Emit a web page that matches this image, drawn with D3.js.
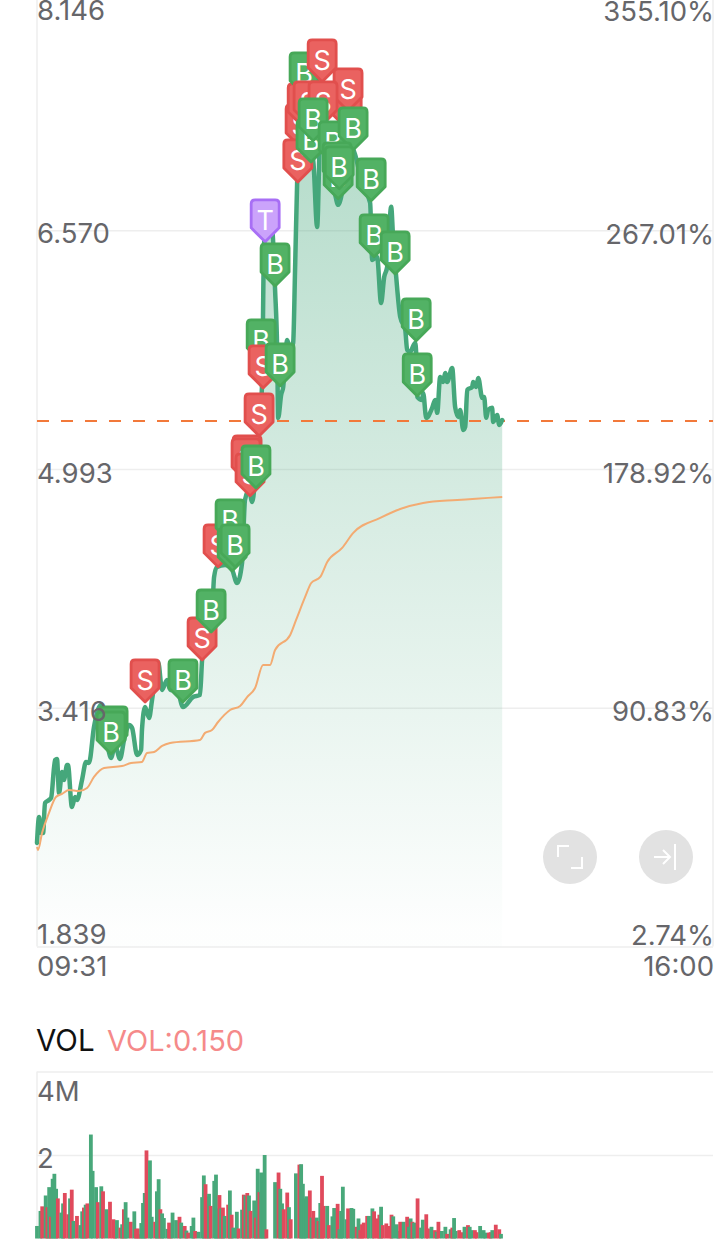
<!DOCTYPE html>
<html>
<head>
<meta charset="utf-8">
<script src="https://cdnjs.cloudflare.com/ajax/libs/d3/7.8.5/d3.min.js"></script>
<style>
  html, body { margin: 0; padding: 0; background: #fff; overflow: hidden; }
  text { font-family: Inter, "Noto Sans", sans-serif; }
</style>
</head>
<body>
<div id="chart"></div>
<script>
// price line, minutes after 09:31
var priceMinutes = [0,1.2,2.3,3.5,4.6,6.9,8.1,10.4,11.5,12.7,14.4,15.5,17.3,17.8,20.1,21.9,23,25.9,28.2,29.9,32.8,36.8,39.7,42.6,44.9,47.8,50.1,53,54.7,57.6,59.9,60.4,62.2,64.5,66.2,69.7,72,74.8,76.6,80.6,84,89.8,93.8,95,98.4,100.2,101.9,103.6,108.2,112.3,115.1,118,119.7,122,123.8,125.5,127.8,129.5,130.7,133,135.3,137,138.2,138.8,140.5,141.6,144,145.7,147.4,148.5,149.7,150.8,152.6,154.9,156.6,158.9,161.2,162.9,163.5,165.8,168.7,171.6,173.3,177.3,180.2,183.1,187.1,191.7,192.9,195.7,198,199.8,201.5,203.8,204.9,206.7,209,211.9,213,214.7,217.6,218.2,218.8,221.6,222.2,224,227.4,229.1,230.3,232,233.7,234.9,236,238.9,240.6,242.4,243.5,245.3,246.4,247.6,250.4,251,252.7,253.9,256.2,257.3,258.5,259.6,261.9,262.5,264.8,266,267.7];
var priceValues = [2.523,2.695,2.589,2.589,2.787,2.807,2.820,3.071,3.078,2.853,2.992,2.939,3.038,3.038,2.761,2.827,2.807,2.939,3.058,3.051,3.289,3.434,3.236,3.084,3.170,3.078,3.203,3.302,3.283,3.104,3.137,3.269,3.421,3.349,3.468,3.719,3.534,3.600,3.534,3.534,3.421,3.487,3.501,3.732,3.963,3.910,4.280,4.346,4.359,4.326,4.240,4.373,4.789,4.855,4.776,4.921,5.284,5.549,6.487,6.625,6.586,6.176,5.780,5.331,5.483,5.529,5.846,5.780,5.826,6.308,6.890,7.233,7.465,7.266,7.101,7.035,6.592,7.299,7.511,7.332,7.002,6.804,6.738,6.936,7.134,7.068,6.870,6.751,6.374,6.394,6.090,6.262,6.328,6.725,6.526,6.262,5.998,5.912,5.780,5.767,5.826,5.760,5.469,5.449,5.496,5.331,5.397,5.449,5.364,5.601,5.568,5.628,5.568,5.661,5.403,5.337,5.383,5.251,5.271,5.516,5.535,5.568,5.535,5.595,5.463,5.469,5.331,5.383,5.397,5.304,5.350,5.284,5.317];

// average price line
var avgMinutes = [0,0.6,2.9,6.9,10.9,14.4,18.4,24.2,28.8,32.8,38.6,48.9,54.1,60.4,63.3,67.4,72,76.6,93.8,96.7,100.7,104.2,111.1,116.9,120.9,125.5,130.1,134.1,137,145.7,149.1,154.3,157.8,163,167,175.6,182,197.5,209,222.2,241.8,267.7];
var avgValues = [2.496,2.477,2.589,2.721,2.827,2.847,2.873,2.866,2.886,2.959,3.018,3.031,3.051,3.058,3.117,3.124,3.164,3.183,3.203,3.250,3.269,3.322,3.401,3.428,3.487,3.547,3.699,3.699,3.798,3.897,3.996,4.148,4.240,4.280,4.379,4.472,4.571,4.670,4.729,4.769,4.789,4.809];

// buy / sell / T flags, in drawing order
var flagTypes = ["B","B","S","B","S","B","S","B","B","B","S","S","S","B","S","B","S","B","T","B","S","S","S","B","S","S","S","S","S","B","B","B","B","B","B","B","B","B","B","B","B"];
var flagMinutes = [43.8,42.6,62.2,84,95,100.2,104.2,111.1,112.3,114,120.9,120.3,122.6,126,127.8,129,130.1,139.9,131.3,137,151.4,152.6,150.1,153.7,164.1,178.5,179,156,164.6,157.7,158.9,170.4,181.9,173.3,172.7,173.9,192.3,194,206.1,218.2,218.8];
var flagPrices = [3.137,3.104,3.448,3.448,3.725,3.910,4.340,4.505,4.313,4.340,4.928,4.908,4.809,4.861,5.205,5.694,5.522,5.535,6.487,6.196,7.114,7.253,6.883,7.458,7.544,7.233,7.352,7.266,7.266,7.015,7.154,7.002,7.094,6.771,6.863,6.837,6.758,6.388,6.275,5.833,5.469];

// volume bars (millions); g = down/green, r = up/red
var volMinutes = [0,2,3,5,6,7,8,9,10,11,12,14,15,16,18,19,20,21,23,25,26,27,28,29,31,32,34,35,37,38,40,42,44,45,46,48,49,50,51,52,54,56,57,58,59,60,61,62,63,65,66,68,69,70,71,72,73,75,76,77,78,80,82,83,85,86,87,89,90,91,93,95,96,97,98,99,100,102,103,104,105,106,107,108,110,111,112,113,115,116,118,119,120,121,122,123,125,126,127,128,129,130,131,132,137,139,140,141,142,144,145,146,149,151,152,153,154,155,157,158,159,161,162,163,164,165,167,168,170,171,173,174,175,176,178,179,181,182,184,185,186,187,188,190,191,193,194,196,197,198,199,201,203,204,205,207,208,209,211,213,214,215,216,217,219,221,222,224,225,227,229,230,231,233,235,236,238,239,240,241,243,245,246,248,249,250,252,253,255,257,258,260,261,262,264,266,267];
var volValues = [.30,.66,.77,1.03,.75,1.23,.52,1.43,1.55,1.19,.96,.62,.84,1.09,.58,.96,1.17,.42,.54,.32,.65,.74,.81,.84,2.49,1.62,1.23,.87,1.25,1.13,.70,.88,.46,.28,.44,.26,.34,.70,.87,.50,.40,.65,.23,.24,.10,.37,.85,1.09,2.11,1.87,.52,.40,1.13,1.42,.70,.60,.49,.23,.38,.20,.62,.44,.52,.38,.30,.19,.14,.30,.50,.18,.16,.99,1.51,1.30,1.01,1.07,.78,1.38,1.53,.72,1.04,.72,.74,.54,.81,1.15,.57,.26,.64,.24,.69,1.05,1.03,1.09,1.03,.66,.91,.50,1.67,1.11,1.58,1.35,2.0,.22,1.35,1.58,1.19,.84,.70,1.10,.75,.46,1.56,1.77,1.78,1.31,.96,1.01,1.15,.50,.66,.50,.42,.85,1.50,.78,.78,.32,.53,.73,.83,.22,.66,1.24,.46,.72,.73,.71,.28,.48,.20,.34,.38,.54,.54,.72,.65,.48,.57,.76,.32,.36,.30,.57,.53,.34,.18,.40,.40,.52,.28,.48,.40,.38,.96,.26,.45,.58,.24,.28,.20,.16,.40,.18,.28,.11,.22,.26,.49,.18,.20,.15,.28,.32,.28,.20,.20,.15,.30,.20,.14,.14,.15,.20,.33,.22,.11];
var volSides = "ggrgrgrgggrggrrgrgrggrgrgggrgrgrrrgrgrggrgrrrgggrggrggrgggrrggrgrgrggrgggrrgrgggrgrgrgrggrgrgrgrgrgrgggrgrggrrgrgrggggrgrgrgrrgrggrggggrggrgrrrrggrrrgrrrrgggrgrggrgrggrrgrgrggrgrggrrgrggrrgggrrgrrggggrg";

var priceTicks = [8.146, 6.570, 4.993, 3.416, 1.839];
var percentLabels = ["355.10%", "267.01%", "178.92%", "90.83%", "2.74%"];
var timeLabels = ["09:31", "16:00"];
var volTicks = [4, 2];
var volTickLabels = ["4M", "2"];
var lastClose = 5.311;

var width = 720, height = 1256;
var left = 37, right = 713;
var textColor = "#66666a", gridColor = "#eeeeee";
var labelSize = 27.5;
var labelDy = ["1.03em", "0.47em", "0.5em", "0.47em", "-0.09em"];

var svg = d3.select("#chart").append("svg")
    .attr("width", width)
    .attr("height", height)
    .style("display", "block");

var x = d3.scaleLinear().domain([0, 389]).range([left, right]);
var y = d3.scaleLinear().domain([1.839, 8.146]).range([946.5, -8.3]);
var yVol = d3.scaleLinear().domain([0, 4]).range([1238.5, 1071.5]);

var defs = svg.append("defs");
var grad = defs.append("linearGradient").attr("id", "areaFill")
    .attr("gradientUnits", "userSpaceOnUse")
    .attr("x1", 0).attr("x2", 0).attr("y1", y(7.5)).attr("y2", 928);
grad.append("stop").attr("offset", 0).attr("stop-color", "#45a77b").attr("stop-opacity", 0.42);
grad.append("stop").attr("offset", 1).attr("stop-color", "#45a77b").attr("stop-opacity", 0.01);

// grid lines + left labels
var leftAxis = svg.append("g")
    .attr("transform", "translate(" + left + ",0)")
    .call(d3.axisRight(y).tickValues(priceTicks).tickSize(right - left).tickFormat(d3.format(".3f")));
leftAxis.select(".domain").remove();
leftAxis.selectAll("line").attr("stroke", gridColor).attr("stroke-width", 1.5);

// edges
svg.selectAll(".edge").data([left, right]).enter().append("line")
    .attr("x1", d => d).attr("x2", d => d)
    .attr("y1", 0).attr("y2", y(1.839))
    .attr("stroke", gridColor).attr("stroke-width", 1.5);

var area = d3.area()
    .x((d, i) => x(priceMinutes[i]))
    .y0(y(1.839))
    .y1(d => y(d))
    .curve(d3.curveMonotoneX);
var line = d3.line()
    .x((d, i) => x(priceMinutes[i]))
    .y(d => y(d))
    .curve(d3.curveMonotoneX);
var avgLine = d3.line()
    .x((d, i) => x(avgMinutes[i]))
    .y(d => y(d))
    .curve(d3.curveMonotoneX);

svg.append("path").datum(priceValues)
    .attr("d", area)
    .attr("fill", "url(#areaFill)");

svg.append("line")
    .attr("x1", left).attr("x2", right)
    .attr("y1", y(lastClose)).attr("y2", y(lastClose))
    .attr("stroke", "#f2793a").attr("stroke-width", 2)
    .attr("stroke-dasharray", "12,12");

svg.append("path").datum(priceValues)
    .attr("d", line)
    .attr("fill", "none")
    .attr("stroke", "#45a77b")
    .attr("stroke-width", 4.5)
    .attr("stroke-linejoin", "round")
    .attr("stroke-linecap", "round");

svg.append("path").datum(avgValues)
    .attr("d", avgLine)
    .attr("fill", "none")
    .attr("stroke", "#f3ab72")
    .attr("stroke-width", 2);

var rightAxis = svg.append("g")
    .attr("transform", "translate(" + (right + 1) + ",0)")
    .call(d3.axisLeft(y).tickValues(priceTicks).tickSize(0).tickPadding(0)
        .tickFormat((d, i) => percentLabels[i]));
rightAxis.select(".domain").remove();
rightAxis.selectAll("text")
    .attr("x", 0)
    .attr("dy", (d, i) => labelDy[i])
    .attr("font-size", labelSize)
    .attr("font-family", 'Inter, "Noto Sans", sans-serif')
    .attr("fill", textColor);

svg.selectAll(".time").data(timeLabels).enter().append("text")
    .attr("x", (d, i) => i ? right + 1 : left)
    .attr("y", 976)
    .attr("text-anchor", (d, i) => i ? "end" : "start")
    .attr("font-size", labelSize)
    .attr("fill", textColor)
    .text(d => d);

// flags
var flagColors = {
  B: { fill: "#52b265", stroke: "#47a858" },
  S: { fill: "#ea6260", stroke: "#e14f4d" },
  T: { fill: "#cba3fb", stroke: "#a86ff5" }
};
var flagPath = "M0,0 L-14,-14 Q-14,-15 -14,-17 L-14,-38 Q-14,-42 -10,-42 L10,-42 Q14,-42 14,-38 L14,-17 Q14,-15 14,-14 Z";
var flags = svg.selectAll(".flag").data(flagTypes).enter().append("g")
    .attr("class", "flag")
    .attr("transform", (d, i) => "translate(" + x(flagMinutes[i]) + "," + (y(flagPrices[i]) - 1) + ")");
flags.append("path")
    .attr("d", flagPath)
    .attr("fill", d => flagColors[d].fill)
    .attr("stroke", d => flagColors[d].stroke)
    .attr("stroke-width", 2.8)
    .attr("stroke-linejoin", "round");
flags.append("text")
    .attr("y", -12)
    .attr("text-anchor", "middle")
    .attr("font-size", 27)
    .attr("fill", "#fff")
    .text(d => d);

// axis labels sit on top of the line and flags
leftAxis.selectAll("text")
    .attr("x", 0)
    .attr("dy", (d, i) => labelDy[i])
    .attr("text-anchor", "start")
    .attr("font-size", labelSize)
    .attr("font-family", 'Inter, "Noto Sans", sans-serif')
    .attr("fill", textColor);
leftAxis.selectAll("text").each(function() { svg.node().appendChild(this); });
svg.selectAll("svg > text").filter(function() { return this.getAttribute("dy"); })
    .attr("transform", "translate(" + left + ",0)")
    .attr("y", (d) => y(d));

// round buttons
var btn = svg.selectAll(".btn").data([570, 666]).enter().append("g")
    .attr("transform", d => "translate(" + d + ",857)");
btn.append("circle").attr("r", 27).attr("fill", "#e2e2e2");
var icons = ["M-12,0 V-11 H-1 M12,0 V11 H1", "M-12,0 H4 M-3,-7 L4,0 L-3,7 M9,-13 V13"];
btn.append("path")
    .attr("d", (d, i) => icons[i])
    .attr("fill", "none")
    .attr("stroke", "#fff")
    .attr("stroke-width", 2);

// volume panel
svg.append("text").attr("x", left - 1).attr("y", 1051)
    .attr("font-size", 29.5).attr("fill", "#111").text("VOL");
svg.append("text").attr("x", 107).attr("y", 1051)
    .attr("font-size", 29).attr("fill", "#f58a8a").text("VOL:0.150");

var volAxis = svg.append("g")
    .attr("transform", "translate(" + left + ",0)")
    .call(d3.axisRight(yVol).tickValues(volTicks).tickSize(right - left)
        .tickFormat((d, i) => volTickLabels[i]));
volAxis.select(".domain").remove();
volAxis.selectAll("line").attr("stroke", gridColor).attr("stroke-width", 1.5);
volAxis.selectAll("text")
    .attr("x", 0)
    .attr("dy", (d, i) => ["1.07em", "0.44em"][i])
    .attr("text-anchor", "start")
    .attr("font-size", labelSize)
    .attr("font-family", 'Inter, "Noto Sans", sans-serif')
    .attr("fill", textColor);

svg.append("line")
    .attr("x1", left).attr("x2", left)
    .attr("y1", yVol(4)).attr("y2", yVol(0))
    .attr("stroke", gridColor).attr("stroke-width", 1.5);

svg.selectAll(".vol").data(volValues).enter().append("rect")
    .attr("class", "vol")
    .attr("x", (d, i) => x(volMinutes[i]) - 1.9)
    .attr("width", 3.8)
    .attr("y", d => yVol(d))
    .attr("height", d => yVol(0) - yVol(d))
    .attr("fill", (d, i) => volSides[i] === "r" ? "#e04a5c" : "#48a87a");
</script>
</body>
</html>
